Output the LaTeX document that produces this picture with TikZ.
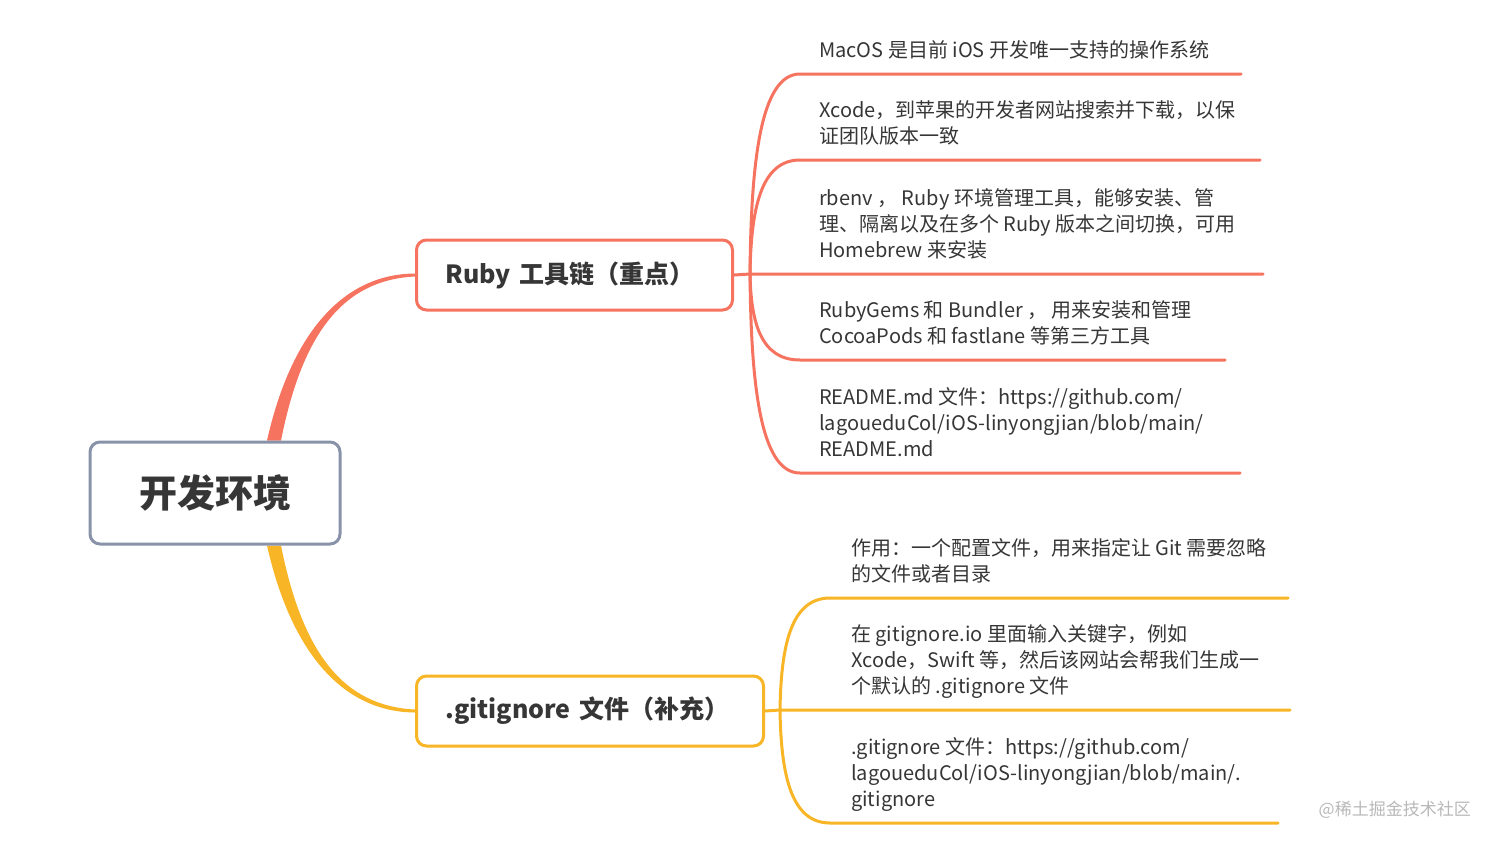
\documentclass[tikz,border=0pt]{standalone}
\usepackage{fontspec}
\setmainfont{Noto Sans CJK SC}
\usepackage{xcolor}
\usetikzlibrary{backgrounds}

\definecolor{rubyc}{HTML}{F5735F}
\definecolor{gitc}{HTML}{F8B525}
\definecolor{rootc}{HTML}{8892A8}
\definecolor{txtc}{HTML}{363636}
\definecolor{markc}{HTML}{B8B8B8}

\begin{document}
\begin{tikzpicture}[x=1pt, y=-1pt,
    topic/.style={draw, line width=3pt, rounded corners=10pt, fill=white,
                  text=txtc, font=\bfseries\fontsize{25}{30}\selectfont,
                  inner xsep=29pt, minimum height=70pt, align=left, anchor=west},
    leaf/.style={anchor=south west, inner sep=0pt, align=left, text=txtc,
                 text depth=4pt, font=\fontsize{20}{26}\selectfont},
    branch/.style={line width=3pt, line cap=round}]
  \useasboundingbox (0,0) rectangle (1494,844);

  % main topics
  \node[draw=rootc, line width=3pt, rounded corners=10pt, fill=white,
        minimum width=250pt, minimum height=102pt, text=txtc,
        font=\bfseries\fontsize{38}{40}\selectfont] (root) at (215,493) {开发环境};
  \node[topic, draw=rubyc, text width=258pt] (ruby) at (415,275) {Ruby 工具链（重点）};
  \node[topic, draw=gitc, text width=289pt] (git) at (415,711) {.gitignore 文件（补充）};

  % ruby leaves
  \node[leaf] (r1) at (819,62) {MacOS 是目前 iOS 开发唯一支持的操作系统};
  \node[leaf] (r2) at (819,148) {Xcode，到苹果的开发者网站搜索并下载，以保\\证团队版本一致};
  \node[leaf] (r3) at (819,262) {rbenv ， Ruby 环境管理工具，能够安装、管\\理、隔离以及在多个 Ruby 版本之间切换，可用\\Homebrew 来安装};
  \node[leaf] (r4) at (819,348) {RubyGems 和 Bundler ， 用来安装和管理\\CocoaPods 和 fastlane 等第三方工具};
  \node[leaf] (r5) at (819,461) {README.md 文件：https://github.com/\\lagoueduCol/iOS-linyongjian/blob/main/\\README.md};

  % gitignore leaves
  \node[leaf] (g1) at (851,586) {作用：一个配置文件，用来指定让 Git 需要忽略\\的文件或者目录};
  \node[leaf] (g2) at (851,698) {在 gitignore.io 里面输入关键字，例如\\Xcode，Swift 等，然后该网站会帮我们生成一\\个默认的 .gitignore 文件};
  \node[leaf] (g3) at (851,811) {.gitignore 文件：https://github.com/\\lagoueduCol/iOS-linyongjian/blob/main/.\\gitignore};

  \node[text=markc, font=\fontsize{17}{20}\selectfont, anchor=east, inner sep=0pt] (mark) at (1471,810) {@稀土掘金技术社区};

  % branch points and line ends
  \coordinate (rb) at (750,274);
  \coordinate (r1s) at (800,74);   \coordinate (r1e) at (1241,74);
  \coordinate (r2s) at (800,160);  \coordinate (r2e) at (1260,160);
  \coordinate (r3e) at (1263,274);
  \coordinate (r4s) at (800,360);  \coordinate (r4e) at (1225,360);
  \coordinate (r5s) at (800,473);  \coordinate (r5e) at (1240,473);
  \coordinate (gb) at (780,710);
  \coordinate (g1s) at (830,598);  \coordinate (g1e) at (1288,598);
  \coordinate (g2e) at (1290,710);
  \coordinate (g3s) at (830,823);  \coordinate (g3e) at (1278,823);

  \begin{scope}[on background layer]
    % root to topics
    \fill[rubyc] ([xshift=52pt]root.north) .. controls (292,330) and (345,274) .. ([yshift=1.5pt]ruby.west)
      -- ([yshift=-1.5pt]ruby.west) .. controls (342,280) and (302,335) .. ([xshift=66pt]root.north) -- cycle;
    \fill[gitc] ([xshift=52pt]root.south) .. controls (292,656) and (345,712) .. ([yshift=-1.5pt]git.west)
      -- ([yshift=1.5pt]git.west) .. controls (342,706) and (302,651) .. ([xshift=66pt]root.south) -- cycle;

    % ruby branches
    \draw[branch, rubyc] (ruby.east) -- (rb) -- (r3e);
    \draw[branch, rubyc] (rb) .. controls (751,164) and (760,74) .. (r1s) -- (r1e);
    \draw[branch, rubyc] (rb) .. controls (751,211) and (760,160) .. (r2s) -- (r2e);
    \draw[branch, rubyc] (rb) .. controls (751,321) and (760,360) .. (r4s) -- (r4e);
    \draw[branch, rubyc] (rb) .. controls (751,383) and (760,473) .. (r5s) -- (r5e);

    % gitignore branches
    \draw[branch, gitc] (git.east) -- (gb) -- (g2e);
    \draw[branch, gitc] (gb) .. controls (781,648) and (790,598) .. (g1s) -- (g1e);
    \draw[branch, gitc] (gb) .. controls (781,772) and (790,823) .. (g3s) -- (g3e);
  \end{scope}
\end{tikzpicture}
\end{document}
